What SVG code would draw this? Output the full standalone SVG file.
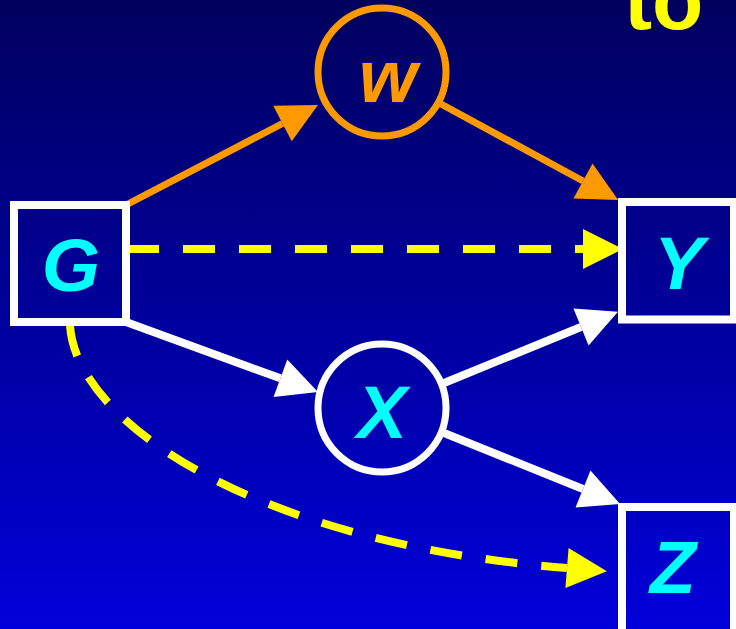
<svg xmlns="http://www.w3.org/2000/svg" width="736" height="629" viewBox="0 0 736 629">
<defs>
<linearGradient id="bg" x1="0" y1="0" x2="0" y2="1">
<stop offset="0" stop-color="#00005E"/>
<stop offset="1" stop-color="#0000DA"/>
</linearGradient>
<marker id="ao" markerUnits="userSpaceOnUse" viewBox="0 -20 40 40" refX="0" refY="0" markerWidth="40" markerHeight="40" orient="auto" overflow="visible"><path d="M0,-20 L40,0 L0,20 Z" fill="#FF9900"/></marker>
<marker id="aw" markerUnits="userSpaceOnUse" viewBox="0 -20 40 40" refX="0" refY="0" markerWidth="40" markerHeight="40" orient="auto" overflow="visible"><path d="M0,-20 L40,0 L0,20 Z" fill="#FFFFFF"/></marker>
<marker id="ay" markerUnits="userSpaceOnUse" viewBox="0 -20 40 40" refX="0" refY="0" markerWidth="40" markerHeight="40" orient="auto" overflow="visible"><path d="M0,-20 L40,0 L0,20 Z" fill="#FFFF00"/></marker>
</defs>
<style>
.box{fill:none;stroke:#FFFFFF;stroke-width:8}
.circ{fill:none;stroke-width:7}
.lbl{font-family:"Liberation Sans",Arial,sans-serif;font-weight:bold;font-style:italic;font-size:75px;fill:#00FFFF;text-anchor:middle}
.eo{fill:none;stroke:#FF9900;stroke-width:7;marker-end:url(#ao)}
.ew{fill:none;stroke:#FFFFFF;stroke-width:8;marker-end:url(#aw)}
.ey{fill:none;stroke:#FFFF00;stroke-width:8;stroke-dasharray:32 24;marker-end:url(#ay)}
</style>
<rect width="736" height="629" fill="url(#bg)"/>
<text x="624" y="29" font-family="Liberation Sans, Arial, sans-serif" font-weight="bold" font-size="84" fill="#FFFF00">to</text>
<g id="connectors">
<path class="eo" d="M126,205 L282.5,123.5"/>
<path class="eo" d="M441,104 L583,181"/>
<path class="ey" d="M127,249 L583,249"/>
<path class="ew" d="M126,322 L280.4,378.3"/>
<path class="ew" d="M444,383 L581,327"/>
<path class="ew" d="M444,433 L583,489"/>
<path class="ey" d="M70,325 C75,420 250,543 567,568"/>
</g>
<g id="node-G">
<rect class="box" x="14" y="205" width="112" height="117"/>
<text class="lbl" x="71" y="291">G</text>
</g>
<g id="node-W">
<circle class="circ" cx="382" cy="72" r="64" stroke="#FF9900"/>
<text class="lbl" x="388" y="102" fill="#FF9900" style="fill:#FF9900">w</text>
</g>
<g id="node-X">
<circle class="circ" cx="382" cy="408" r="64" stroke="#FFFFFF"/>
<text class="lbl" x="382" y="438">X</text>
</g>
<g id="node-Y">
<rect class="box" x="622" y="202" width="112" height="117.5"/>
<text class="lbl" x="679" y="289">Y</text>
</g>
<g id="node-Z">
<rect class="box" x="622" y="507" width="112" height="140"/>
<text class="lbl" x="673" y="593">Z</text>
</g>
</svg>
